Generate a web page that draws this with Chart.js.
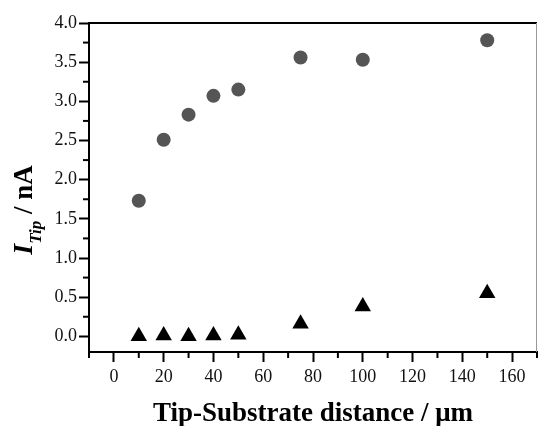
<!DOCTYPE html>
<html>
<head>
<meta charset="utf-8">
<script src="https://cdn.jsdelivr.net/npm/chart.js@4"></script>
<style>
  html, body { margin: 0; padding: 0; background: #fff; }
  #wrap { width: 540px; height: 426px; }
</style>
</head>
<body>
<div id="wrap"><canvas id="myChart"></canvas></div>
<script>
const distance = [10, 20, 30, 40, 50, 75, 100, 150];
const circles = [1.73, 2.51, 2.83, 3.07, 3.15, 3.56, 3.53, 3.78];
const triangles = [0.0, 0.01, 0.0, 0.01, 0.02, 0.16, 0.38, 0.55];
const xTicks = [0, 20, 40, 60, 80, 100, 120, 140, 160];
const yTicks = [0, 0.5, 1.0, 1.5, 2.0, 2.5, 3.0, 3.5, 4.0];

const serif = "'Liberation Serif', 'Times New Roman', serif";

const frame = {
  id: 'frame',
  afterDraw(chart) {
    const c = chart.ctx, a = chart.chartArea;
    const x = chart.scales.x, y = chart.scales.y;
    c.save();
    // top and right border
    c.strokeStyle = '#000';
    c.lineWidth = 2;
    c.beginPath(); c.moveTo(a.left, a.top); c.lineTo(a.right, a.top); c.stroke();
    c.strokeStyle = '#999';
    c.lineWidth = 1;
    c.beginPath(); c.moveTo(a.right - 0.5, a.top); c.lineTo(a.right - 0.5, a.bottom); c.stroke();
    // minor ticks
    c.strokeStyle = '#000';
    c.lineWidth = 2;
    for (let i = 0; i < yTicks.length; i++) {
      const v = yTicks[i] + 0.25;
      if (v > y.max) break;
      const py = y.getPixelForValue(v);
      c.beginPath(); c.moveTo(a.left - 6, py); c.lineTo(a.left, py); c.stroke();
    }
    for (let i = -1; i < xTicks.length; i++) {
      const v = (i < 0 ? xTicks[0] - 20 : xTicks[i]) + 10;
      if (v < x.min || v > x.max) continue;
      const px = x.getPixelForValue(v);
      c.beginPath(); c.moveTo(px, a.bottom); c.lineTo(px, a.bottom + 6); c.stroke();
    }
    // axis titles
    c.fillStyle = '#000';
    c.textBaseline = 'alphabetic';
    c.textAlign = 'center';
    c.font = 'bold 27px ' + serif;
    c.fillText('Tip-Substrate distance / \u03bcm', (a.left + a.right) / 2, 421);

    c.translate(32, 210);
    c.rotate(-Math.PI / 2);
    const big = 'bold italic 28px ' + serif;
    const sub = 'bold italic 17px ' + serif;
    const rest = 'bold 27px ' + serif;
    c.font = big; const w1 = c.measureText('I').width;
    c.font = sub; const w2 = c.measureText('Tip').width;
    c.font = rest; const w3 = c.measureText(' / nA').width;
    let sx = -(w1 + w2 + w3) / 2;
    c.textAlign = 'left';
    c.font = big; c.fillText('I', sx, 0); sx += w1;
    c.font = sub; c.fillText('Tip', sx, 9); sx += w2;
    c.font = rest; c.fillText(' / nA', sx, 0);
    c.restore();
  }
};

new Chart(document.getElementById('myChart'), {
  type: 'scatter',
  data: {
    datasets: [{
      label: 'circles',
      data: distance.map((d, i) => ({ x: d, y: circles[i] })),
      pointStyle: 'circle',
      pointRadius: 7,
      pointHoverRadius: 7,
      backgroundColor: '#555555',
      borderColor: '#555555',
      borderWidth: 0
    }, {
      label: 'triangles',
      data: distance.map((d, i) => ({ x: d, y: triangles[i] })),
      pointStyle: 'triangle',
      pointRadius: 9.5,
      pointHoverRadius: 9.5,
      backgroundColor: '#000',
      borderColor: '#000',
      borderWidth: 0
    }]
  },
  options: {
    responsive: true,
    maintainAspectRatio: false,
    animation: false,
    layout: { autoPadding: false, padding: { top: 23, right: 3, left: 0, bottom: 0 } },
    plugins: { legend: { display: false }, tooltip: { enabled: false } },
    scales: {
      x: {
        type: 'linear',
        min: -10,
        max: 170,
        afterBuildTicks: s => { s.ticks = xTicks.map(v => ({ value: v })); },
        afterFit: s => { s.height = 74; s.paddingRight = 0; s.paddingLeft = 0; },
        grid: { drawOnChartArea: false, tickLength: 10, tickWidth: 2, tickColor: '#000' },
        border: { color: '#000', width: 2 },
        ticks: { color: '#111', font: { family: serif, size: 18 }, padding: 4, maxRotation: 0 }
      },
      y: {
        min: -0.2,
        max: 4.0,
        afterBuildTicks: s => { s.ticks = yTicks.map(v => ({ value: v })); },
        afterFit: s => { s.width = 89; s.paddingTop = 0; s.paddingBottom = 0; },
        grid: { drawOnChartArea: false, tickLength: 10, tickWidth: 2, tickColor: '#000' },
        border: { color: '#000', width: 2 },
        ticks: { color: '#111', font: { family: serif, size: 18 }, padding: 2,
          callback: v => v.toFixed(1) }
      }
    }
  },
  plugins: [frame]
});
</script>
</body>
</html>
